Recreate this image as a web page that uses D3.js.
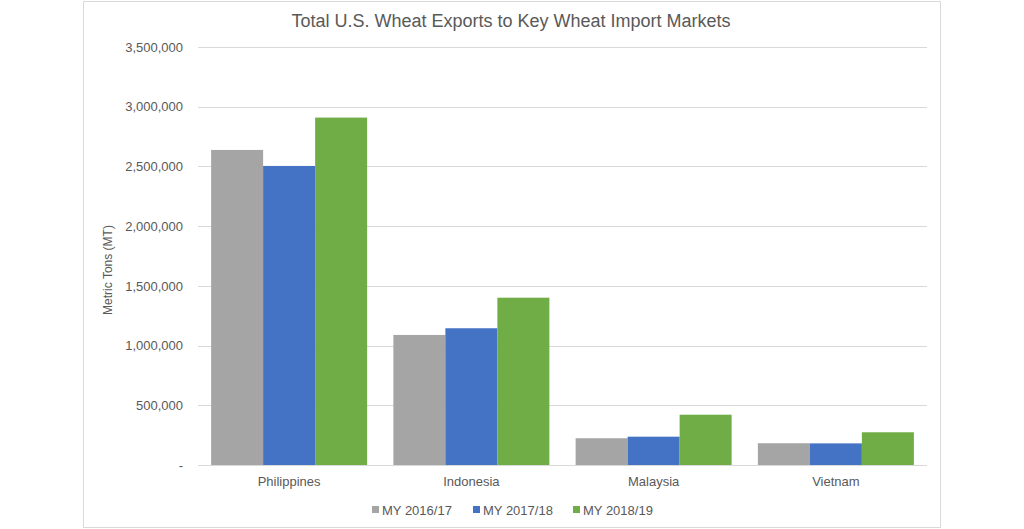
<!DOCTYPE html>
<html>
<head>
<meta charset="utf-8">
<script src="https://cdn.jsdelivr.net/npm/d3@7"></script>
<style>
  body { margin: 0; background: #fff; }
  svg text { font-family: "Liberation Sans", Arial, sans-serif; fill: #595959; }
</style>
</head>
<body>
<svg id="chart" width="1024" height="529"></svg>
<script>
const categories = ['Philippines', 'Indonesia', 'Malaysia', 'Vietnam'];
const seriesNames = ['MY 2016/17', 'MY 2017/18', 'MY 2018/19'];
const my2016 = [2638000, 1089000, 224000, 182000];
const my2017 = [2504000, 1145000, 237000, 181000];
const my2018 = [2909000, 1401000, 421000, 274000];
const yTicks = [0, 500000, 1000000, 1500000, 2000000, 2500000, 3000000, 3500000];
const colors = ['#A5A5A5', '#4472C4', '#70AD47'];

const series = [my2016, my2017, my2018];
const svg = d3.select('#chart');

// chart frame
svg.append('rect').attr('x', 83.5).attr('y', 1.5).attr('width', 857).attr('height', 526)
  .attr('fill', '#fff').attr('stroke', '#D9D9D9');

const plotLeft = 198, plotRight = 927, plotTop = 47, plotBottom = 465;

const x = d3.scaleBand().domain(categories).range([plotLeft, plotRight]).paddingInner(0.144).paddingOuter(0.072);
const xs = d3.scaleBand().domain(seriesNames).range([0, x.bandwidth()]);
const y = d3.scaleLinear().domain([0, 3500000]).range([plotBottom, plotTop]);

// gridlines
svg.append('g').selectAll('line').data(yTicks.filter(d => d > 0)).enter().append('line')
  .attr('x1', plotLeft).attr('x2', plotRight)
  .attr('y1', d => Math.round(y(d)) + 0.5).attr('y2', d => Math.round(y(d)) + 0.5)
  .attr('stroke', '#D9D9D9').attr('stroke-width', 1);

// bars
const g = svg.append('g');
categories.forEach((c, i) => {
  g.selectAll(null).data(series.map((s, j) => ({ name: seriesNames[j], v: s[i], j }))).enter()
    .append('rect')
    .attr('x', d => x(c) + xs(d.name))
    .attr('width', xs.bandwidth())
    .attr('y', d => y(d.v))
    .attr('height', d => y(0) - y(d.v))
    .attr('fill', d => colors[d.j]);
});

// baseline
svg.append('line').attr('x1', plotLeft).attr('x2', plotRight)
  .attr('y1', plotBottom + 0.5).attr('y2', plotBottom + 0.5)
  .attr('stroke', '#D9D9D9');

// y axis
const yAxis = d3.axisLeft(y).tickValues(yTicks).tickSize(0).tickPadding(0)
  .tickFormat(d => d === 0 ? '-' : d3.format(',')(d));
const ya = svg.append('g').attr('transform', `translate(183,0)`).call(yAxis);
ya.select('.domain').remove();
ya.selectAll('text').attr('font-size', 13).attr('fill', '#595959')
  .style('font-family', '"Liberation Sans", Arial, sans-serif');

// x axis
const xAxis = d3.axisBottom(x).tickSize(0).tickPadding(0);
const xa = svg.append('g').attr('transform', `translate(0,${plotBottom + 12})`).call(xAxis);
xa.select('.domain').remove();
xa.selectAll('text').attr('font-size', 13).attr('fill', '#595959')
  .style('font-family', '"Liberation Sans", Arial, sans-serif');

// title
svg.append('text').attr('x', 511).attr('y', 27).attr('text-anchor', 'middle')
  .attr('font-size', 18).text('Total U.S. Wheat Exports to Key Wheat Import Markets');

// y axis title
svg.append('text').attr('transform', 'translate(112,270) rotate(-90)').attr('text-anchor', 'middle')
  .attr('font-size', 12).text('Metric Tons (MT)');

// legend
const legendX = [372, 473, 573];
const lg = svg.append('g').selectAll('g').data(seriesNames).enter().append('g')
  .attr('transform', (d, i) => `translate(${legendX[i]},510)`);
lg.append('rect').attr('x', 0).attr('y', -4).attr('width', 7).attr('height', 7)
  .attr('fill', (d, i) => colors[i]);
lg.append('text').attr('x', 10).attr('y', 5).attr('font-size', 13).text(d => d);
</script>
</body>
</html>
